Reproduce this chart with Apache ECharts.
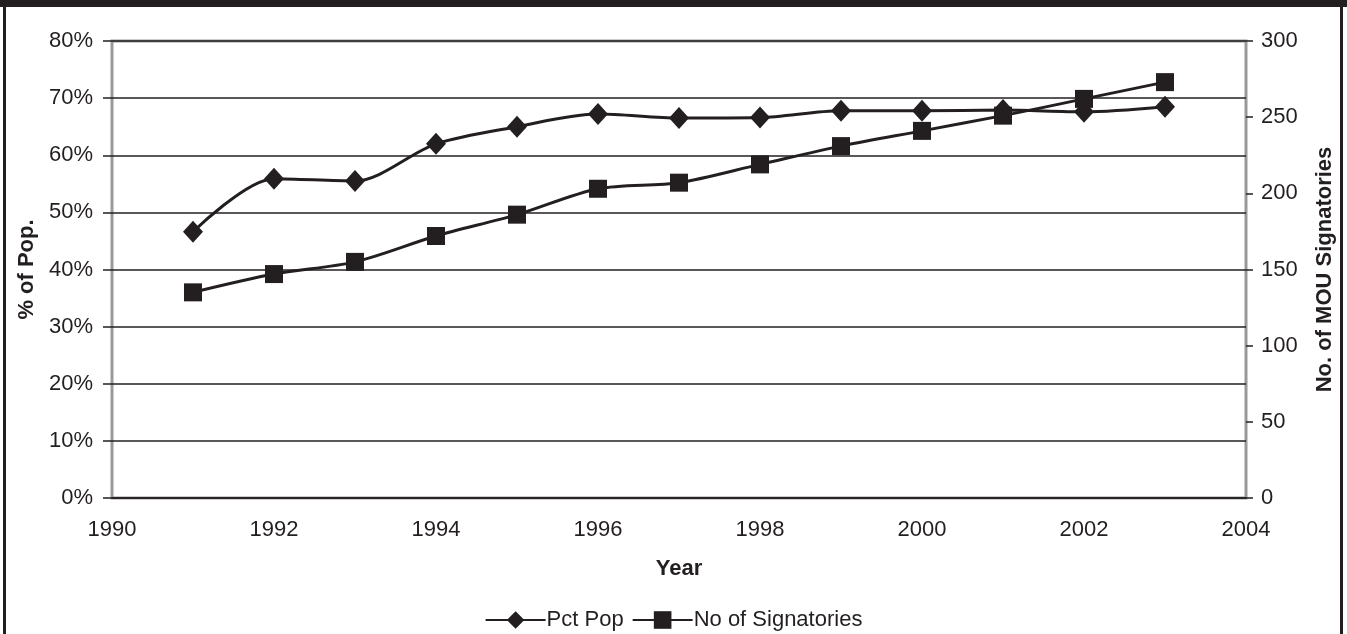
<!DOCTYPE html>
<html>
<head>
<meta charset="utf-8">
<script src="https://cdn.jsdelivr.net/npm/echarts@6/dist/echarts.min.js"></script>
<style>
html,body{margin:0;padding:0;background:#fff;}
#chart{width:1347px;height:634px;}
</style>
</head>
<body>
<div id="chart"></div>
<script>
var years = [1991,1992,1993,1994,1995,1996,1997,1998,1999,2000,2001,2002,2003];
var pctPop = [46.6,55.9,55.5,62.0,65.0,67.2,66.5,66.6,67.8,67.8,67.9,67.6,68.5];
var signatories = [135,147,155,172,186,203,207,219,231,241,251,262,273];
var seriesNames = ['Pct Pop','No of Signatories'];
var axisNames = {x:'Year', left:'% of Pop.', right:'No. of MOU Signatories'};

var ink = '#231f20';
var font = 'Liberation Sans, Arial, sans-serif';

function zip(xs, ys){ return xs.map(function(x,i){ return [x, ys[i]]; }); }

var chart = echarts.init(document.getElementById('chart'), null, {renderer:'canvas'});
chart.setOption({
  animation:false,
  backgroundColor:'#fff',
  textStyle:{fontFamily:font, color:ink},
  graphic:[
    {type:'rect', shape:{x:0,y:0,width:1347,height:7}, style:{fill:ink}, z:100},
    {type:'rect', shape:{x:3,y:0,width:3,height:634}, style:{fill:ink}, z:100},
    {type:'rect', shape:{x:1340,y:0,width:3,height:634}, style:{fill:ink}, z:100}
  ],
  grid:{left:112, right:101, top:41, bottom:136, show:true, borderColor:'#999', borderWidth:3, backgroundColor:'#fff'},
  legend:{
    top:604, left:'center',
    itemWidth:60, itemHeight:22, itemGap:8,
    textStyle:{fontSize:22, color:ink, fontFamily:font, padding:[0,0,0,-4]},
    data:seriesNames
  },
  xAxis:{
    type:'value', min:1990, max:2004, interval:2,
    name:axisNames.x, nameLocation:'middle', nameGap:60,
    nameTextStyle:{fontSize:22, fontWeight:'bold', color:ink, fontFamily:font},
    axisLine:{show:true, onZero:false, lineStyle:{color:ink, width:1.5}},
    axisTick:{show:false},
    axisLabel:{fontSize:22, color:ink, margin:21, formatter:function(v){return String(v);}},
    splitLine:{show:false}
  },
  yAxis:[
    {
      type:'value', min:0, max:80, interval:10, position:'left',
      name:axisNames.left, nameLocation:'middle', nameGap:71, nameRotate:90,
      nameTextStyle:{fontSize:22, fontWeight:'bold', color:ink, fontFamily:font},
      axisLine:{show:false},
      axisTick:{show:true, length:9, lineStyle:{color:ink, width:1.5}},
      axisLabel:{fontSize:22, color:ink, margin:19, formatter:'{value}%'},
      splitLine:{show:true, lineStyle:{color:ink, width:1.5}}
    },
    {
      type:'value', min:0, max:300, interval:50, position:'right',
      name:axisNames.right, nameLocation:'middle', nameGap:68, nameRotate:90,
      nameTextStyle:{fontSize:22, fontWeight:'bold', color:ink, fontFamily:font},
      axisLine:{show:false},
      axisTick:{show:true, length:7, lineStyle:{color:ink, width:1.5}},
      axisLabel:{fontSize:22, color:ink, margin:15},
      splitLine:{show:false}
    }
  ],
  series:[
    {
      name:seriesNames[0], type:'line', yAxisIndex:0,
      data:zip(years, pctPop),
      smooth:0.3,
      symbol:'diamond', symbolSize:[20,22],
      lineStyle:{color:ink, width:3},
      itemStyle:{color:ink, borderWidth:0},
      z:3
    },
    {
      name:seriesNames[1], type:'line', yAxisIndex:1,
      data:zip(years, signatories),
      smooth:0.3,
      symbol:'rect', symbolSize:18,
      lineStyle:{color:ink, width:3},
      itemStyle:{color:ink, borderWidth:0},
      z:4
    }
  ]
});
</script>
</body>
</html>
